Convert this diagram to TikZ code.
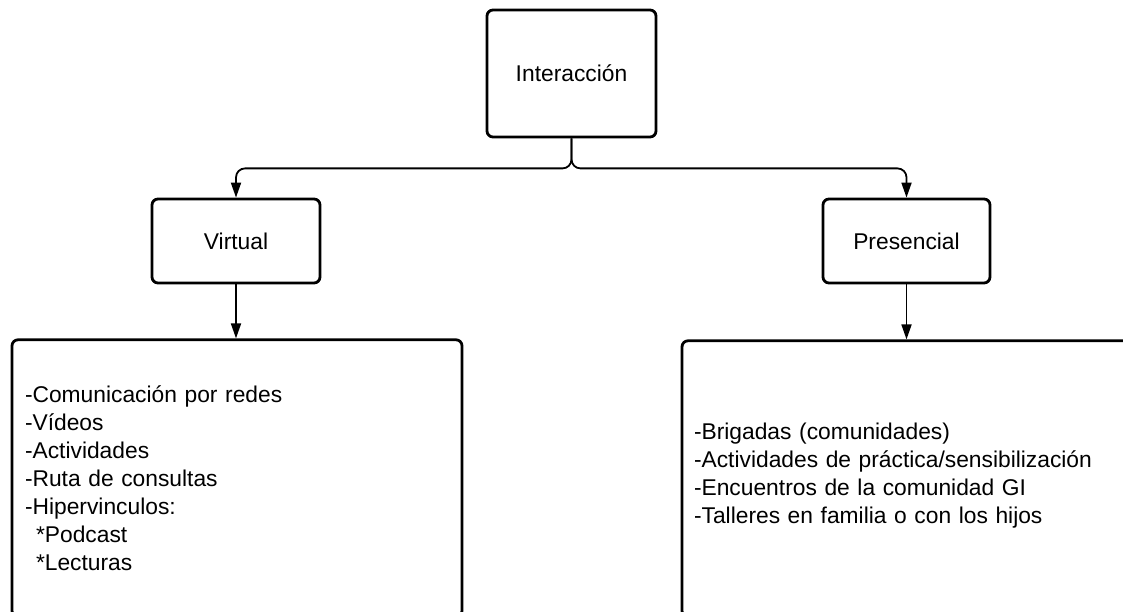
\documentclass[tikz,border=0pt]{standalone}
\usepackage{fontspec}
\setmainfont{Liberation Sans}
\usepackage{tikz}
\usetikzlibrary{arrows.meta,positioning}
\tikzset{
    >={Triangle[length=15pt,width=10pt]},
    x=1pt, y=1pt,
    font=\fontsize{22.8}{28}\selectfont,
    top box/.style={rectangle,draw,line width=2.8pt,rounded corners=6pt,align=center},
    list box/.style={rectangle,draw,line width=2.8pt,rounded corners=6pt,align=left,inner ysep=0pt},
    link/.style={->,line width=1.8pt,rounded corners=9pt}
}
\begin{document}
\begin{tikzpicture}
    \useasboundingbox (0,0) rectangle (1123,611);
    \clip (0,0) rectangle (1123,611);
    \node[top box, minimum width=169pt, minimum height=127pt] (inter) at (571.5,537.5) {Interacción};
    \node[top box, minimum width=168pt, minimum height=84pt] (virt) at (236,370) {Virtual};
    \node[top box, minimum width=167pt, minimum height=84pt] (pres) at (906.5,370) {Presencial};
    \node[list box, text width=424pt, inner xsep=13pt, minimum height=277pt] (virtlist) [below = 54pt of virt, xshift=1pt]
        {-Comunicación por redes\\
         -Vídeos\\
         -Actividades\\
         -Ruta de consultas\\
         -Hipervinculos:\\
         \hspace*{11pt}*Podcast\\
         \hspace*{11pt}*Lecturas};
    \node[list box, text width=446pt, inner xsep=12pt, minimum height=276pt] (preslist) [below = 55pt of pres, xshift=10.5pt]
        {-Brigadas (comunidades)\\
         -Actividades de práctica/sensibilización\\
         -Encuentros de la comunidad GI\\
         -Talleres en familia o con los hijos\\[-16pt]\mbox{}};
    \draw[link] (inter.south) |- ([yshift=-30pt]inter.south -| virt.north) -- (virt.north);
    \draw[link] (inter.south) |- ([yshift=-30pt]inter.south -| pres.north) -- (pres.north);
    \draw[link] (virt.south) -- (virt.south |- virtlist.north);
    \draw[link] (pres.south) -- (pres.south |- preslist.north);
\end{tikzpicture}
\end{document}
